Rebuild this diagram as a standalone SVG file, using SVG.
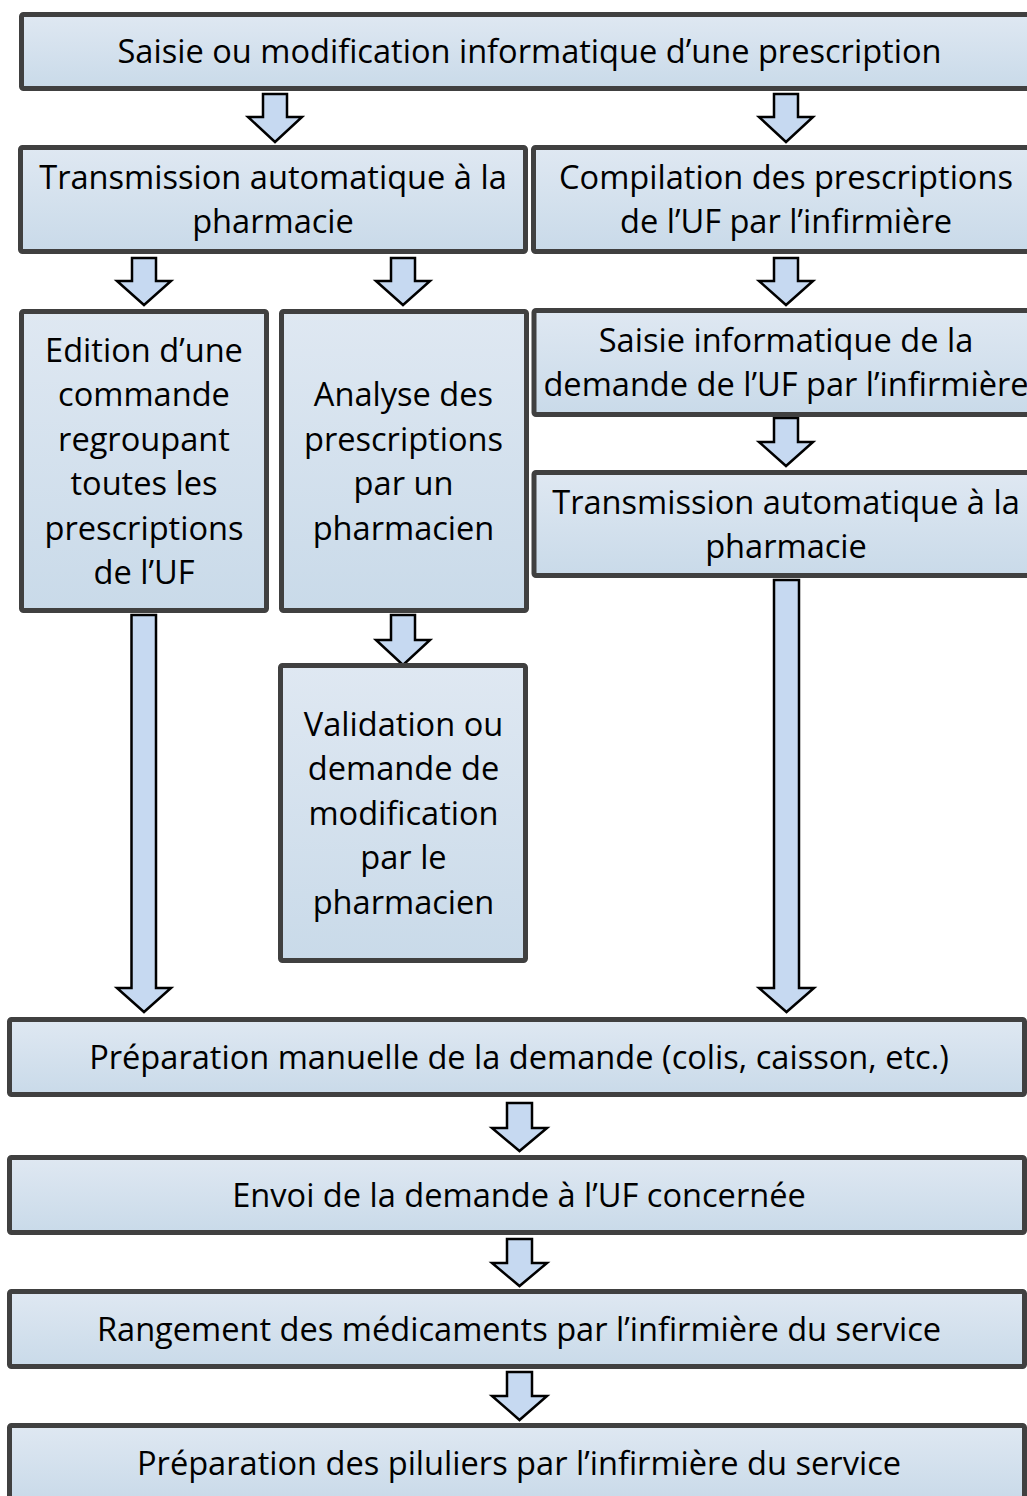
<svg xmlns="http://www.w3.org/2000/svg" width="1027" height="1496" viewBox="0 0 1027 1496">
<defs>
<linearGradient id="boxfill" x1="0" y1="0" x2="0" y2="1">
<stop offset="0" stop-color="#dfe8f2"/>
<stop offset="1" stop-color="#c9dae9"/>
</linearGradient>
<style>
.box{fill:url(#boxfill);stroke:#404040;stroke-width:5;}
.lbl{font-family:"Open Sans","Liberation Sans",sans-serif;font-size:32.6px;fill:#000;text-anchor:middle;}
.arr{fill:#c6d9f1;stroke:#000;stroke-width:2.5;stroke-linejoin:miter;}
</style>
</defs>
<rect width="1027" height="1496" fill="#fff"/>
<g id="connectors">
<path class="arr" d="M263,94 H287 V117 H302 L275,142 L248,117 H263 Z"/>
<path class="arr" d="M774,94 H798 V117 H813 L786,142 L759,117 H774 Z"/>
<path class="arr" d="M132,258 H156 V281 H171 L144,305 L117,281 H132 Z"/>
<path class="arr" d="M391,258 H415 V281 H430 L403,305 L376,281 H391 Z"/>
<path class="arr" d="M774,258 H798 V281 H813 L786,305 L759,281 H774 Z"/>
<path class="arr" d="M774,418 H798 V442 H813 L786,466 L759,442 H774 Z"/>
<path class="arr" d="M391,615 H415 V640 H430 L403,665 L376,640 H391 Z"/>
<path class="arr" d="M131.5,615 H156 V988 H171 L144,1012 L117,988 H131.5 Z"/>
<path class="arr" d="M774,580 H799 V988 H814 L786.5,1012 L759,988 H774 Z"/>
<path class="arr" d="M507,1103 H532 V1128 H547 L519.5,1151 L492,1128 H507 Z"/>
<path class="arr" d="M507,1239 H532 V1263 H547 L519.5,1286 L492,1263 H507 Z"/>
<path class="arr" d="M507,1372 H532 V1396 H547 L519.5,1420 L492,1396 H507 Z"/>
</g>
<g id="n-saisie">
<rect class="box" x="21.5" y="14.5" width="1018" height="74" rx="2"/>
<text class="lbl" x="529.5" y="63">Saisie ou modification informatique d’une prescription</text>
</g>
<g id="n-transmission1">
<rect class="box" x="20.5" y="147.5" width="505" height="104" rx="2"/>
<text class="lbl" x="273" y="188.5">Transmission automatique à la</text>
<text class="lbl" x="273" y="233">pharmacie</text>
</g>
<g id="n-compilation">
<rect class="box" x="533.5" y="147.5" width="505" height="104" rx="2"/>
<text class="lbl" x="786" y="188.5">Compilation des prescriptions</text>
<text class="lbl" x="786" y="233">de l’UF par l’infirmière</text>
</g>
<g id="n-edition">
<rect class="box" x="21.5" y="311.5" width="245" height="299" rx="2"/>
<text class="lbl" x="144" y="361.5">Edition d’une</text>
<text class="lbl" x="144" y="406">commande</text>
<text class="lbl" x="144" y="450.5">regroupant</text>
<text class="lbl" x="144" y="495">toutes les</text>
<text class="lbl" x="144" y="539.5">prescriptions</text>
<text class="lbl" x="144" y="584">de l’UF</text>
</g>
<g id="n-analyse">
<rect class="box" x="281.5" y="311.5" width="245" height="299" rx="2"/>
<text class="lbl" x="403.5" y="406">Analyse des</text>
<text class="lbl" x="403.5" y="450.5">prescriptions</text>
<text class="lbl" x="403.5" y="495">par un</text>
<text class="lbl" x="403.5" y="539.5">pharmacien</text>
</g>
<g id="n-saisie-demande">
<rect class="box" x="534" y="310.5" width="505" height="104" rx="2"/>
<text class="lbl" x="786" y="351.5">Saisie informatique de la</text>
<text class="lbl" x="786" y="396">demande de l’UF par l’infirmière</text>
</g>
<g id="n-transmission2">
<rect class="box" x="534" y="472.5" width="505" height="103" rx="2"/>
<text class="lbl" x="786" y="513.5">Transmission automatique à la</text>
<text class="lbl" x="786" y="558">pharmacie</text>
</g>
<g id="n-validation">
<rect class="box" x="280.5" y="665.5" width="245" height="295" rx="2"/>
<text class="lbl" x="403.5" y="735.5">Validation ou</text>
<text class="lbl" x="403.5" y="780">demande de</text>
<text class="lbl" x="403.5" y="824.5">modification</text>
<text class="lbl" x="403.5" y="869">par le</text>
<text class="lbl" x="403.5" y="913.5">pharmacien</text>
</g>
<g id="n-preparation">
<rect class="box" x="9.5" y="1019.5" width="1015" height="75" rx="2"/>
<text class="lbl" x="519" y="1068.5">Préparation manuelle de la demande (colis, caisson, etc.)</text>
</g>
<g id="n-envoi">
<rect class="box" x="9.5" y="1157.5" width="1015" height="75" rx="2"/>
<text class="lbl" x="519" y="1206.5">Envoi de la demande à l’UF concernée</text>
</g>
<g id="n-rangement">
<rect class="box" x="9.5" y="1291.5" width="1015" height="75" rx="2"/>
<text class="lbl" x="519" y="1340.5">Rangement des médicaments par l’infirmière du service</text>
</g>
<g id="n-piluliers">
<rect class="box" x="9.5" y="1425.5" width="1015" height="75" rx="2"/>
<text class="lbl" x="519" y="1474.5">Préparation des piluliers par l’infirmière du service</text>
</g>
</svg>
